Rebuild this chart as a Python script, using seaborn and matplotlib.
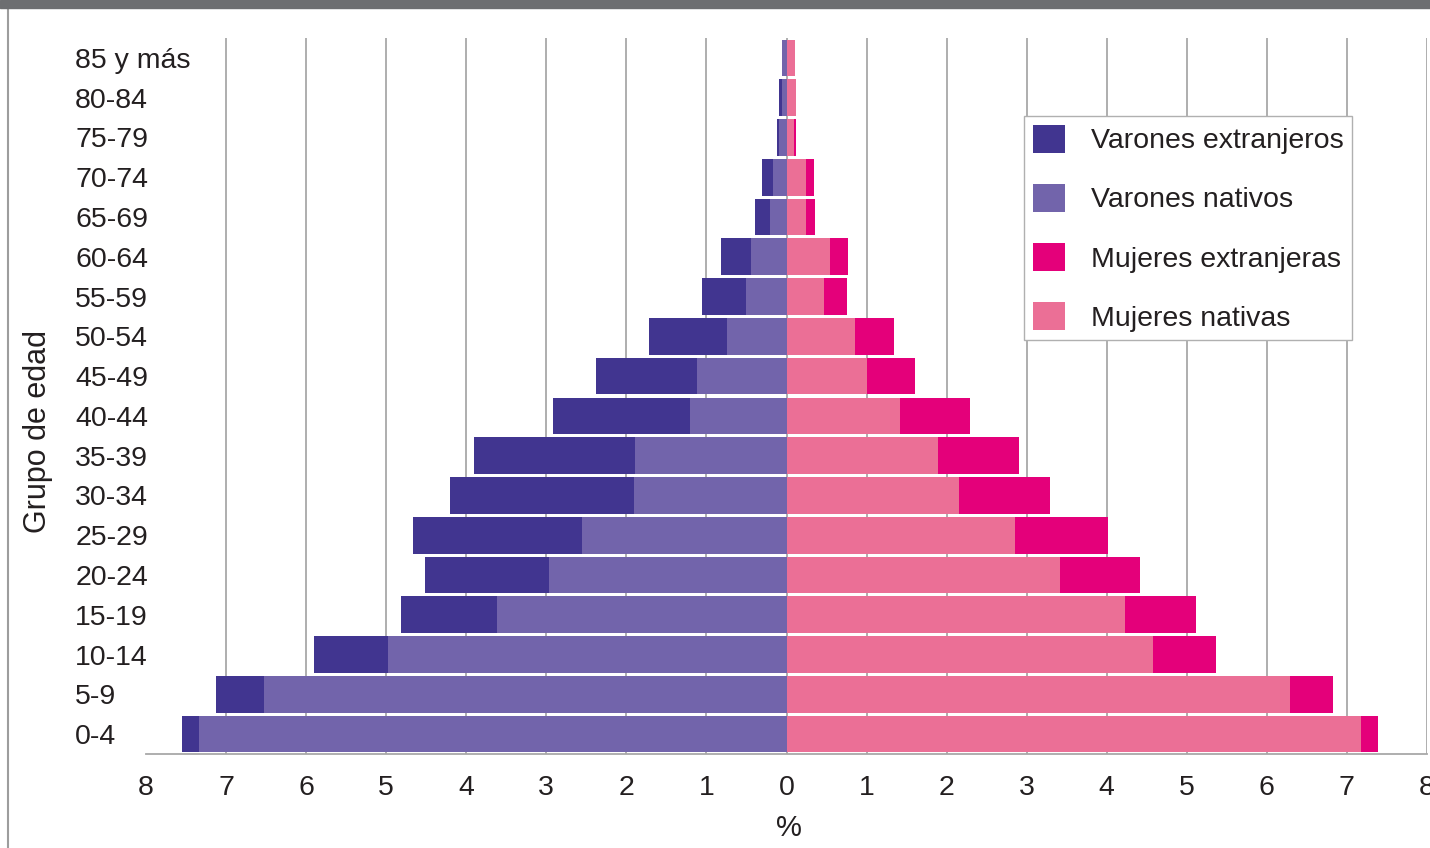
import numpy as np
import pandas as pd
import matplotlib
matplotlib.use("Agg")
import matplotlib.pyplot as plt
import seaborn as sns
from matplotlib.patches import Patch, Rectangle
from matplotlib.lines import Line2D

# ---------------- data ----------------
age_groups = ["85 y más", "80-84", "75-79", "70-74", "65-69", "60-64", "55-59",
              "50-54", "45-49", "40-44", "35-39", "30-34", "25-29", "20-24",
              "15-19", "10-14", "5-9", "0-4"]
varones_nativos = [0.05, 0.05, 0.09, 0.17, 0.20, 0.44, 0.50, 0.74, 1.12, 1.20,
                   1.89, 1.91, 2.56, 2.97, 3.62, 4.98, 6.52, 7.34]
varones_extranjeros = [0.01, 0.04, 0.03, 0.13, 0.19, 0.38, 0.56, 0.98, 1.26, 1.72,
                       2.01, 2.29, 2.10, 1.54, 1.19, 0.92, 0.60, 0.21]
mujeres_nativas = [0.10, 0.12, 0.09, 0.24, 0.24, 0.54, 0.47, 0.86, 1.00, 1.42,
                   1.89, 2.16, 2.86, 3.42, 4.23, 4.58, 6.29, 7.18]
mujeres_extranjeras = [0.00, 0.00, 0.03, 0.10, 0.12, 0.23, 0.28, 0.48, 0.60, 0.87,
                       1.01, 1.13, 1.16, 0.99, 0.89, 0.78, 0.54, 0.21]
x_ticks = list(range(-8, 9))
x_tick_labels = [str(abs(t)) for t in x_ticks]
series_labels = ["Varones extranjeros", "Varones nativos",
                 "Mujeres extranjeras", "Mujeres nativas"]
series_colors = ["#413590", "#7264ab", "#e4007a", "#eb6f96"]

# ---------------- style ----------------
sns.set_style("white")
plt.rcParams["font.family"] = ["Liberation Sans", "DejaVu Sans"]
text_color = "#231f20"
grid_color = "#a8a8a8"

df = pd.DataFrame({
    "age": age_groups,
    "v_nat": varones_nativos,
    "v_ext": varones_extranjeros,
    "m_nat": mujeres_nativas,
    "m_ext": mujeres_extranjeras,
})
df["v_total_neg"] = -(df["v_nat"] + df["v_ext"])
df["v_nat_neg"] = -df["v_nat"]
df["m_total"] = df["m_nat"] + df["m_ext"]

W, H = 1430, 848
fig = plt.figure(figsize=(W / 100, H / 100), dpi=100)
ax_l, ax_r, ax_t, ax_b = 146, 1427, 38, 754
ax = fig.add_axes([ax_l / W, 1 - ax_b / H, (ax_r - ax_l) / W, (ax_b - ax_t) / H])

bw = 0.92
common = dict(y="age", order=age_groups, orient="h", width=bw, linewidth=0,
              saturation=1, ax=ax)
sns.barplot(data=df, x="v_total_neg", color=series_colors[0], **common)
sns.barplot(data=df, x="v_nat_neg", color=series_colors[1], **common)
sns.barplot(data=df, x="m_total", color=series_colors[2], **common)
sns.barplot(data=df, x="m_nat", color=series_colors[3], **common)

ax.set_xlim(-8, 8)
ax.set_ylim(len(age_groups) - 0.5, -0.5)
ax.set_xticks(x_ticks)
ax.set_xticklabels(x_tick_labels)

ax.grid(axis="x", color=grid_color, lw=1.3)
ax.grid(axis="y", visible=False)
ax.set_axisbelow(True)
ax.get_xgridlines()[0].set_visible(False)

for s in ["left", "top", "right"]:
    ax.spines[s].set_visible(False)
ax.spines["bottom"].set_color(grid_color)
ax.spines["bottom"].set_linewidth(1.3)

ax.tick_params(axis="x", length=4, width=1.3, color=grid_color, pad=11,
               labelsize=20.5, labelcolor=text_color)
ax.tick_params(axis="y", length=0, pad=51, labelsize=20.5, labelcolor=text_color)
for lab in ax.get_yticklabels():
    lab.set_horizontalalignment("left")

ax.set_ylabel("Grupo de edad", fontsize=22, color=text_color, va="center")
ax.yaxis.set_label_coords((38 - ax_l) / (ax_r - ax_l), (ax_b - 431) / (ax_b - ax_t))
ax.set_xlabel("%", fontsize=21, color=text_color, va="center")
ax.xaxis.set_label_coords((789 - ax_l) / (ax_r - ax_l), (ax_b - 828) / (ax_b - ax_t))

handles = [Patch(facecolor=c, edgecolor="none", label=l)
           for c, l in zip(series_colors, series_labels)]
leg = ax.legend(handles=handles, loc="upper left",
                bbox_to_anchor=((1024 - ax_l) / (ax_r - ax_l), (ax_b - 116) / (ax_b - ax_t)),
                borderaxespad=0, fontsize=20.5, handlelength=1.15, handleheight=1.15,
                handletextpad=0.9, labelspacing=1.03, borderpad=0.3,
                fancybox=False, framealpha=1, edgecolor="#b0b0b0")
leg.get_frame().set_linewidth(1.0)
for t in leg.get_texts():
    t.set_color(text_color)

# decorative frame elements
fig.patches.append(Rectangle((0, 1 - 8 / H), 1, 8 / H, transform=fig.transFigure,
                             color="#6d6e71", zorder=10))
fig.lines.append(Line2D([7.5 / W, 7.5 / W], [0, 1 - 8 / H], transform=fig.transFigure,
                        color="#9d9d9d", lw=1.5))

fig.savefig("out.png", dpi=100)
